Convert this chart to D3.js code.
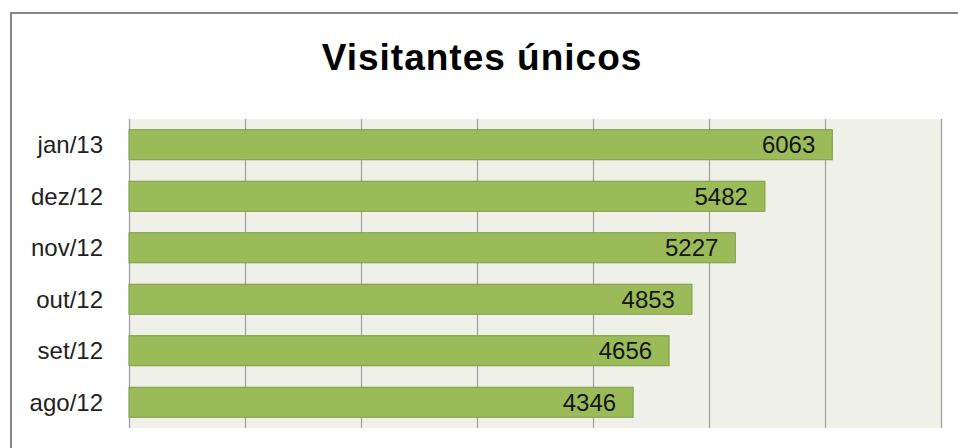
<!DOCTYPE html>
<html><head><meta charset="utf-8">
<script src="https://cdn.jsdelivr.net/npm/d3@7"></script>
<style>body{margin:0;background:#fff;overflow:hidden}svg{display:block}</style>
</head><body>
<script>
const categories = ["jan/13","dez/12","nov/12","out/12","set/12","ago/12"];
const values = [6063,5482,5227,4853,4656,4346];
const tickValues = [0,1000,2000,3000,4000,5000,6000,7000];
const title = "Visitantes únicos";

(function(){
const W=958,H=448;
const svg=d3.select("body").append("svg").attr("width",W).attr("height",H);
const font="'Liberation Sans', Arial, sans-serif";

svg.append("rect").attr("x",11).attr("y",13).attr("width",980).attr("height",480)
  .attr("fill","#fff").attr("stroke","#878787").attr("stroke-width",2);

const pLeft=129,pRight=941,pTop=119,pBottom=428;
const x=d3.scaleLinear().domain([0,7000]).range([pLeft,pRight]);
const y=d3.scaleBand().domain(categories).range([pTop,pBottom]).paddingInner(0.417).paddingOuter(0.2085);

svg.append("rect").attr("x",pLeft).attr("y",pTop).attr("width",pRight-pLeft).attr("height",pBottom-pTop).attr("fill","#eff1e9");

const ax=svg.append("g").attr("transform",`translate(0,${pBottom})`)
  .call(d3.axisBottom(x).tickValues(tickValues).tickSize(-(pBottom-pTop)).tickFormat(""));
ax.select(".domain").remove();
ax.selectAll(".tick line").attr("stroke","#a3a3a3").attr("stroke-width",1.3);

svg.selectAll(".bar").data(values).join("rect").attr("class","bar")
  .attr("x",x(0)).attr("y",(d,i)=>y(categories[i]))
  .attr("width",d=>x(d)-x(0)).attr("height",y.bandwidth())
  .attr("fill","#9bbb59").attr("stroke","#7c9a47").attr("stroke-width",1);

svg.selectAll(".val").data(values).join("text").attr("class","val")
  .attr("x",d=>x(d)-17).attr("y",(d,i)=>y(categories[i])+y.bandwidth()/2+8.5)
  .attr("text-anchor","end").attr("font-family",font).attr("font-size",24).attr("fill","#151515")
  .text(d=>d);

const ay=svg.append("g").attr("transform",`translate(${pLeft},0)`)
  .call(d3.axisLeft(y).tickSize(0).tickPadding(26));
ay.select(".domain").remove();
ay.selectAll("text").attr("font-family",font).attr("font-size",24).attr("fill","#222")
  .attr("dy",null).attr("y",8.5);

svg.append("text").attr("x",482).attr("y",70).attr("text-anchor","middle")
  .attr("font-family",font).attr("font-weight","bold").attr("font-size",37).attr("letter-spacing",1)
  .attr("fill","#000")
  .text(title);
})();
</script>
</body></html>
